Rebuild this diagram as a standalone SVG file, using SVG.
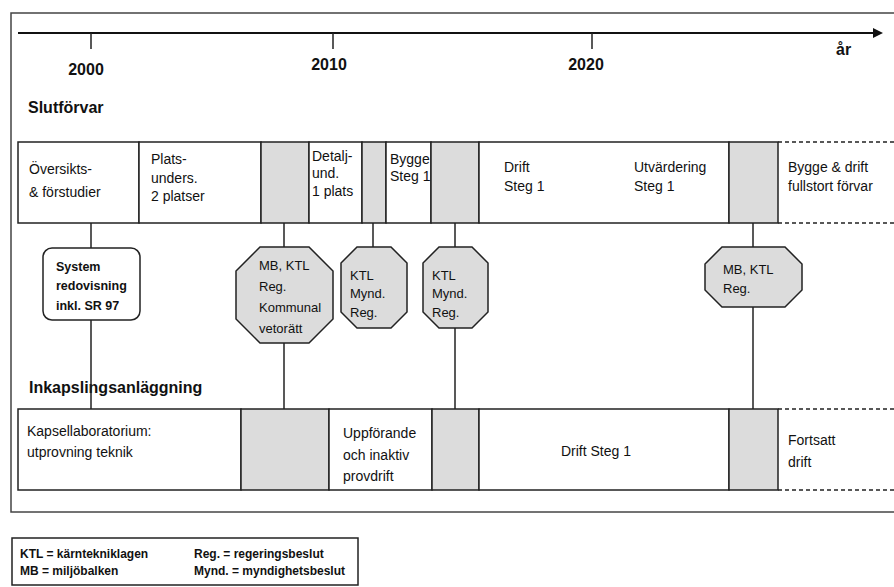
<svg xmlns="http://www.w3.org/2000/svg" width="894" height="587" viewBox="0 0 894 587">
<style>
text{font-family:"Liberation Sans",Arial,sans-serif;fill:#111}
.t{font-size:14px}
.o{font-size:13px}
.b{font-weight:bold;font-size:16px}
.sb{font-weight:bold;font-size:12.5px}
.lg{font-weight:bold;font-size:12px}
.w{fill:#fff;stroke:#222;stroke-width:1.5}
.g{fill:#dcdcdc;stroke:#222;stroke-width:1.5}
.d{stroke:#222;stroke-width:1.5;stroke-dasharray:4 3;fill:none}
.c{stroke:#222;stroke-width:1.5;fill:none}
</style>
<rect x="11" y="13" width="900" height="499" fill="#fff" stroke="#444" stroke-width="1.5"/>
<g id="axis">
<line x1="18" y1="33" x2="875" y2="33" stroke="#111" stroke-width="2"/>
<polygon points="873,28 883,33 873,38" fill="#111"/>
<line x1="91" y1="33" x2="91" y2="49" class="c"/>
<line x1="333" y1="33" x2="333" y2="49" class="c"/>
<line x1="592" y1="33" x2="592" y2="49" class="c"/>
<text class="b" x="86" y="75" text-anchor="middle">2000</text>
<text class="b" x="329" y="70" text-anchor="middle">2010</text>
<text class="b" x="586" y="70" text-anchor="middle">2020</text>
<text class="b" x="836" y="55">år</text>
</g>
<text class="b" x="28" y="113">Slutförvar</text>
<text class="b" x="29" y="393">Inkapslingsanläggning</text>
<g id="connectors">
<line x1="91" y1="223" x2="91" y2="409" class="c"/>
<line x1="284" y1="223" x2="284" y2="409" class="c"/>
<line x1="373" y1="223" x2="373" y2="247" class="c"/>
<line x1="455" y1="223" x2="455" y2="409" class="c"/>
<line x1="753" y1="223" x2="753" y2="409" class="c"/>
</g>
<g id="slutforvar-row">
<rect x="18" y="142" width="121" height="81" class="w"/>
<rect x="139" y="142" width="122" height="81" class="w"/>
<rect x="261" y="142" width="48" height="81" class="g"/>
<rect x="309" y="142" width="53" height="81" class="w"/>
<rect x="362" y="142" width="24" height="81" class="g"/>
<rect x="386" y="142" width="45" height="81" class="w"/>
<rect x="431" y="142" width="48" height="81" class="g"/>
<rect x="479" y="142" width="250" height="81" class="w"/>
<rect x="729" y="142" width="49" height="81" class="g"/>
<line x1="778" y1="142" x2="894" y2="142" class="d"/>
<line x1="778" y1="223" x2="894" y2="223" class="d"/>
<text class="t" x="29" y="174">Översikts-</text>
<text class="t" x="29" y="197">&amp; förstudier</text>
<text class="t" x="151" y="164">Plats-</text>
<text class="t" x="151" y="183">unders.</text>
<text class="t" x="151" y="201">2 platser</text>
<text class="t" x="312" y="161">Detalj-</text>
<text class="t" x="312" y="178">und.</text>
<text class="t" x="312" y="196">1 plats</text>
<text class="t" x="390" y="164">Bygge</text>
<text class="t" x="390" y="181">Steg 1</text>
<text class="t" x="504" y="172">Drift</text>
<text class="t" x="504" y="191">Steg 1</text>
<text class="t" x="634" y="172">Utvärdering</text>
<text class="t" x="634" y="191">Steg 1</text>
<text class="t" x="788" y="172">Bygge &amp; drift</text>
<text class="t" x="788" y="191">fullstort förvar</text>
</g>
<g id="system">
<rect x="43" y="248" width="97" height="72" rx="9" fill="#fff" stroke="#222" stroke-width="1.5"/>
<text class="sb" x="56" y="271">System</text>
<text class="sb" x="56" y="290">redovisning</text>
<text class="sb" x="56" y="310">inkl. SR 97</text>
</g>
<g id="beslut1">
<polygon points="260,247 309,247 333,271 333,319 309,343 260,343 236,319 236,271" class="g"/>
<text class="o" x="259" y="270">MB, KTL</text>
<text class="o" x="259" y="291">Reg.</text>
<text class="o" x="259" y="312">Kommunal</text>
<text class="o" x="259" y="333">vetorätt</text>
</g>
<g id="beslut2">
<polygon points="357,247 391,247 407,263 407,312 391,328 357,328 341,312 341,263" class="g"/>
<text class="o" x="350" y="280">KTL</text>
<text class="o" x="350" y="298">Mynd.</text>
<text class="o" x="350" y="317">Reg.</text>
</g>
<g id="beslut3">
<polygon points="439,247 472,247 488,263 488,312 472,328 439,328 423,312 423,263" class="g"/>
<text class="o" x="432" y="280">KTL</text>
<text class="o" x="432" y="298">Mynd.</text>
<text class="o" x="432" y="317">Reg.</text>
</g>
<g id="beslut4">
<polygon points="722,247 785,247 802,264 802,290 785,307 722,307 705,290 705,264" class="g"/>
<text class="o" x="723" y="274">MB, KTL</text>
<text class="o" x="723" y="293">Reg.</text>
</g>
<g id="inkapsling-row">
<rect x="18" y="409" width="223" height="81" class="w"/>
<rect x="241" y="409" width="88" height="81" class="g"/>
<rect x="329" y="409" width="103" height="81" class="w"/>
<rect x="432" y="409" width="47" height="81" class="g"/>
<rect x="479" y="409" width="250" height="81" class="w"/>
<rect x="729" y="409" width="49" height="81" class="g"/>
<line x1="778" y1="409" x2="894" y2="409" class="d"/>
<line x1="778" y1="490" x2="894" y2="490" class="d"/>
<text class="t" x="27" y="436">Kapsellaboratorium:</text>
<text class="t" x="27" y="457">utprovning teknik</text>
<text class="t" x="343" y="438">Uppförande</text>
<text class="t" x="343" y="460">och inaktiv</text>
<text class="t" x="343" y="481">provdrift</text>
<text class="t" x="596" y="456" text-anchor="middle">Drift Steg 1</text>
<text class="t" x="788" y="445">Fortsatt</text>
<text class="t" x="788" y="467">drift</text>
</g>
<g id="legend">
<rect x="12" y="538" width="346" height="47" fill="#fff" stroke="#222" stroke-width="1.5"/>
<text class="lg" x="20" y="558">KTL = kärntekniklagen</text>
<text class="lg" x="20" y="575">MB = miljöbalken</text>
<text class="lg" x="194" y="558">Reg. = regeringsbeslut</text>
<text class="lg" x="194" y="575">Mynd. = myndighetsbeslut</text>
</g>
</svg>
